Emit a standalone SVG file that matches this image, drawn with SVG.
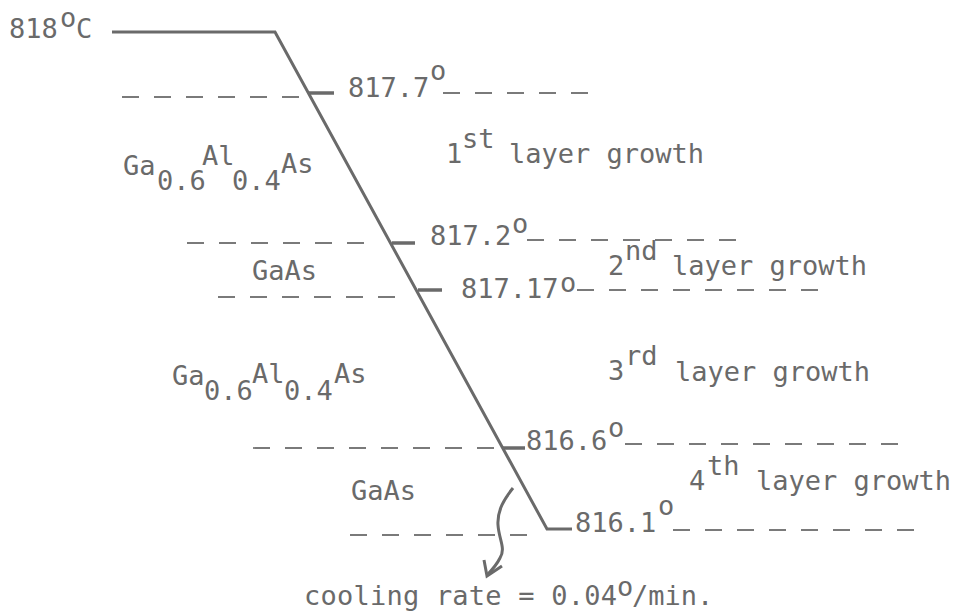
<svg xmlns="http://www.w3.org/2000/svg" width="954" height="616" viewBox="0 0 954 616">
<style>
  text { font-family: "DejaVu Sans Mono", "Liberation Mono", monospace; font-size: 27px; fill: #6a6a6a; }
  .dash { stroke: #7a7a7a; stroke-width: 1.8; stroke-dasharray: 17 15; fill: none; }
  .tick { stroke: #6a6a6a; stroke-width: 3.5; stroke-linecap: butt; }
  .profile { stroke: #6a6a6a; stroke-width: 3; fill: none; stroke-linejoin: miter; }
</style>
<rect width="954" height="616" fill="#ffffff"/>

<g id="profile">
  <polyline class="profile" points="112,32 275,32 547,529 572,529"/>
</g>

<g id="levels">
  <line class="dash" x1="122" y1="97" x2="302" y2="97"/>
  <line class="dash" x1="443" y1="93" x2="592" y2="93"/>
  <line class="dash" x1="187" y1="243" x2="368" y2="243"/>
  <line class="dash" x1="527" y1="240" x2="740" y2="240"/>
  <line class="dash" x1="218" y1="297" x2="400" y2="297"/>
  <line class="dash" x1="577" y1="290" x2="820" y2="290"/>
  <line class="dash" x1="253" y1="448" x2="497" y2="448"/>
  <line class="dash" x1="625" y1="444" x2="900" y2="444"/>
  <line class="dash" x1="350" y1="535" x2="532" y2="535"/>
  <line class="dash" x1="673" y1="530" x2="920" y2="530"/>
  <line class="tick" x1="308" y1="93" x2="334" y2="93"/>
  <line class="tick" x1="392" y1="243" x2="415" y2="243"/>
  <line class="tick" x1="418" y1="290" x2="442" y2="290"/>
  <line class="tick" x1="502" y1="448" x2="525" y2="448"/>
</g>

<g id="temperatures">
  <text x="9" y="38">818</text><text x="60" y="27">o</text><text x="76" y="38">C</text>
  <text x="348" y="97">817.7</text><text x="430" y="80">o</text>
  <text x="430" y="245">817.2</text><text x="512" y="233">o</text>
  <text x="461" y="298">817.17</text><text x="560" y="292">o</text>
  <text x="526" y="450">816.6</text><text x="608" y="437">o</text>
  <text x="575" y="532">816.1</text><text x="658" y="515">o</text>
</g>

<g id="layer1">
  <text x="123" y="175">Ga</text><text x="157" y="190">0.6</text><text x="202" y="165">Al</text><text x="232" y="190">0.4</text><text x="281" y="173">As</text>
  <text x="446" y="163">1</text><text x="462" y="148">st</text><text x="509" y="163">layer growth</text>
</g>

<g id="layer2">
  <text x="252" y="280">GaAs</text>
  <text x="608" y="275">2</text><text x="625" y="260">nd</text><text x="672" y="275">layer growth</text>
</g>

<g id="layer3">
  <text x="172" y="385">Ga</text><text x="204" y="400">0.6</text><text x="252" y="383">Al</text><text x="284" y="400">0.4</text><text x="334" y="383">As</text>
  <text x="608" y="380">3</text><text x="625" y="365">rd</text><text x="675" y="381">layer growth</text>
</g>

<g id="layer4">
  <text x="351" y="500">GaAs</text>
  <text x="689" y="490">4</text><text x="707" y="475">th</text><text x="756" y="490">layer growth</text>
</g>

<g id="connectors">
  <path d="M513,488 C505,498 497,510 498,525 C499,540 506,548 500,558 C496,566 491,571 487,575" stroke="#6a6a6a" stroke-width="3" fill="none"/>
  <polyline points="484,560 487,576 502,566" stroke="#6a6a6a" stroke-width="3" fill="none" stroke-linejoin="miter"/>
</g>

<g id="cooling-rate">
  <text x="304" y="605" textLength="313">cooling rate = 0.04</text><text x="617" y="596">o</text><text x="632" y="605">/min.</text>
</g>
</svg>
